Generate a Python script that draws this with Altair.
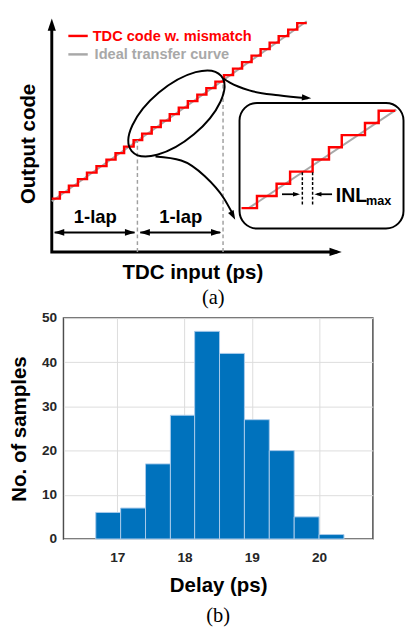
import altair as alt
import pandas as pd

# ---------------- (b) histogram of delay ----------------
bin_start = [16.68, 17.05, 17.42, 17.79, 18.15, 18.52, 18.89, 19.26, 19.63, 20.00]
bin_end = [17.05, 17.42, 17.79, 18.15, 18.52, 18.89, 19.26, 19.63, 20.00, 20.37]
counts = [6, 7, 17, 28, 47, 42, 27, 20, 5, 1]
delay_ticks = [17, 18, 19, 20]
count_ticks = [0, 10, 20, 30, 40, 50]

# ---------------- (a) TDC transfer-curve sketch ----------------
# x: TDC input in LSB (one lap = 9 LSB), y: output code
lap_edges = [0, 9, 18]
code_start = 8.2
riser_x = [0.85, 1.8, 2.75, 3.7, 4.7, 5.75, 6.7, 7.6, 8.6, 9.5, 10.5, 11.45,
           12.4, 13.35, 14.3, 15.3, 16.25, 17.2, 18.1, 19.05, 20.0, 21.0,
           21.95, 22.9, 23.85, 24.85, 25.8]
curve_end_x = 26.8
ideal_x = [0.0, 26.8]
ideal_y = [7.8, 35.5]
lap_line_top = [17.2, 26.2]

# zoomed inset (own zoomed-LSB / zoomed-code units)
inset_riser_x = [0.86, 1.95, 2.70, 3.95, 4.86, 5.57, 6.86, 7.62]
inset_end_x = 8.54
inset_ideal_x = [0.4, 8.6]
inset_ideal_y = [0.0, 8.1]
inl_edges = [3.38, 3.95]

# ---------------- scale set-up for the sketch ----------------
PX_LSB = 88 / 9.0
PX_CODE = 6.68
TOP_W, TOP_H = 351, 300
x_lo = 12 / PX_LSB
XS = alt.Scale(domain=[x_lo, x_lo + TOP_W / PX_LSB], nice=False, zero=False)
YS = alt.Scale(domain=[-60 / PX_CODE, 240 / PX_CODE], nice=False, zero=False)
Y_TOP = 240 / PX_CODE

# inset placement inside the sketch
IN_X0, IN_Y0 = 19.94, 6.74
IN_SX, IN_SY = 18.5 / PX_LSB, 12.5 / PX_CODE


def ix(v):
    return IN_X0 + IN_SX * v


def iy(v):
    return IN_Y0 + IN_SY * v


FONT = "Liberation Sans"


def enc(**extra):
    d = dict(x=alt.X("x:Q", scale=XS, axis=None), y=alt.Y("y:Q", scale=YS, axis=None))
    d.update(extra)
    return d


layers = []

# axes of the sketch (one polyline)
axes_df = pd.DataFrame({"x": [0, 0, 30.0], "y": [Y_TOP - 1.6, 0, 0], "o": [0, 1, 2]})
layers.append(alt.Chart(axes_df).mark_line(color="black", strokeWidth=3, strokeJoin="miter")
              .encode(**enc(order="o:Q")))

# ideal transfer curve
ideal_df = pd.DataFrame({"x": ideal_x, "y": ideal_y})
layers.append(alt.Chart(ideal_df).mark_line(color="#a8a8a8", strokeWidth=2).encode(**enc()))

# TDC code with mismatch (staircase)
sx = [0] + riser_x + [curve_end_x]
sy = [code_start + i for i in range(len(riser_x) + 1)] + [code_start + len(riser_x)]
stair_df = pd.DataFrame({"x": sx, "y": sy, "o": list(range(len(sx)))})
layers.append(alt.Chart(stair_df).mark_line(color="#ff0000", strokeWidth=2.5, interpolate="step-after")
              .encode(**enc(order="o:Q")))

# dashed lap boundaries
lapl_df = pd.DataFrame({"x": lap_edges[1:], "y": [0, 0], "y2": lap_line_top})
layers.append(alt.Chart(lapl_df).mark_rule(color="#a0a0a0", strokeWidth=1.5, strokeDash=[4, 3])
              .encode(**enc(y2="y2:Q")))

# 1-lap double arrows (shafts)
shaft_df = pd.DataFrame({"x": [0.3, 9.3], "x2": [8.7, 17.7], "y": [3.0, 3.0]})
layers.append(alt.Chart(shaft_df).mark_rule(color="black", strokeWidth=2).encode(**enc(x2="x2:Q")))

lap_txt = pd.DataFrame({"x": [4.57, 13.55], "y": [5.4, 5.4], "t": ["1-lap", "1-lap"]})
layers.append(alt.Chart(lap_txt).mark_text(font=FONT, fontSize=19, fontWeight="bold", color="black",
                                           baseline="middle").encode(**enc(text="t:N")))

# ellipse around the middle lap
ell = "M 1 0 C 1 0.258 0.552 0.467 0 0.467 C -0.552 0.467 -1 0.258 -1 0 C -1 -0.258 -0.552 -0.467 0 -0.467 C 0.552 -0.467 1 -0.258 1 0 Z"
ell_df = pd.DataFrame({"x": [13.1], "y": [21.3]})
layers.append(alt.Chart(ell_df).mark_point(shape=ell, size=14400, angle=320, filled=False, color="black",
                                           strokeWidth=2, opacity=1).encode(**enc()))

# curved zoom arrows
curve_df = pd.DataFrame({
    "x": [18.07, 18.72, 20.76, 23.83, 26.9, 10.9, 13.6, 16.06, 18.1, 19.0],
    "y": [26.65, 26.05, 24.85, 24.1, 23.65, 14.67, 14.07, 11.68, 8.23, 5.9],
    "id": ["a"] * 5 + ["b"] * 5,
    "o": [0, 1, 2, 3, 4, 0, 1, 2, 3, 4],
})
layers.append(alt.Chart(curve_df).mark_line(color="black", strokeWidth=2, interpolate="monotone")
              .encode(**enc(detail="id:N", order="o:Q")))

# inset box
box_df = pd.DataFrame({"x": [ix(-0.11)], "x2": [ix(9.0)], "y": [iy(-1.68)], "y2": [iy(8.64)]})
layers.append(alt.Chart(box_df).mark_rect(fill="transparent", stroke="black", strokeWidth=2, cornerRadius=18)
              .encode(**enc(x2="x2:Q", y2="y2:Q")))

# inset ideal and staircase
in_ideal_df = pd.DataFrame({"x": [ix(v) for v in inset_ideal_x], "y": [iy(v) for v in inset_ideal_y]})
layers.append(alt.Chart(in_ideal_df).mark_line(color="#a8a8a8", strokeWidth=2).encode(**enc()))

isx = [0] + inset_riser_x + [inset_end_x]
isy = list(range(len(inset_riser_x) + 1)) + [len(inset_riser_x)]
in_stair_df = pd.DataFrame({"x": [ix(v) for v in isx], "y": [iy(v) for v in isy], "o": list(range(len(isx)))})
layers.append(alt.Chart(in_stair_df).mark_line(color="#ff0000", strokeWidth=2.5, interpolate="step-after")
              .encode(**enc(order="o:Q")))

# INL markers
inl_df = pd.DataFrame({"x": [ix(v) for v in inl_edges], "y": [iy(0.3)] * 2, "y2": [iy(3.0)] * 2})
layers.append(alt.Chart(inl_df).mark_rule(color="black", strokeWidth=1.5, strokeDash=[3, 2])
              .encode(**enc(y2="y2:Q")))
inl_shaft = pd.DataFrame({"x": [ix(2.25), ix(4.2)], "x2": [ix(3.1), ix(5.03)], "y": [iy(1.14)] * 2})
layers.append(alt.Chart(inl_shaft).mark_rule(color="black", strokeWidth=1.8).encode(**enc(x2="x2:Q")))
inl_txt = pd.DataFrame({"x": [ix(5.24)], "y": [iy(0.96)], "t": ["INL"]})
layers.append(alt.Chart(inl_txt).mark_text(font=FONT, fontSize=20, fontWeight="bold", color="black",
                                           align="left", baseline="middle").encode(**enc(text="t:N")))
max_txt = pd.DataFrame({"x": [ix(6.92)], "y": [iy(0.6)], "t": ["max"]})
layers.append(alt.Chart(max_txt).mark_text(font=FONT, fontSize=13, fontWeight="bold", color="black",
                                           align="left", baseline="middle").encode(**enc(text="t:N")))

# legend
leg_df = pd.DataFrame({"x": [1.74, 1.74], "x2": [3.78, 3.78], "y": [33.23, 30.39], "c": ["r", "g"]})
layers.append(alt.Chart(leg_df).mark_rule(strokeWidth=2.5).encode(
    **enc(x2="x2:Q", color=alt.Color("c:N", scale=alt.Scale(domain=["r", "g"], range=["#ff0000", "#a8a8a8"]),
                                      legend=None))))
leg_t1 = pd.DataFrame({"x": [4.3], "y": [33.23], "t": ["TDC code w. mismatch"]})
layers.append(alt.Chart(leg_t1).mark_text(font=FONT, fontSize=15, fontWeight="bold", color="#ff0000",
                                          align="left", baseline="middle").encode(**enc(text="t:N")))
leg_t2 = pd.DataFrame({"x": [4.5], "y": [30.39], "t": ["Ideal transfer curve"]})
layers.append(alt.Chart(leg_t2).mark_text(font=FONT, fontSize=15, fontWeight="bold", color="#a8a8a8",
                                          align="left", baseline="middle").encode(**enc(text="t:N")))

# axis titles of the sketch
xt = pd.DataFrame({"x": [14.83], "y": [-3.29], "t": ["TDC input (ps)"]})
layers.append(alt.Chart(xt).mark_text(font=FONT, fontSize=21, fontWeight="bold", color="black",
                                      baseline="middle").encode(**enc(text="t:N")))
yt = pd.DataFrame({"x": [-2.35], "y": [16.62], "t": ["Output code"]})
layers.append(alt.Chart(yt).mark_text(font=FONT, fontSize=21, fontWeight="bold", color="black",
                                      baseline="middle", angle=270).encode(**enc(text="t:N")))
at = pd.DataFrame({"x": [16.98], "y": [-7.04], "t": ["(a)"]})
layers.append(alt.Chart(at).mark_text(font="Liberation Serif", fontSize=21, color="black",
                                      baseline="middle").encode(**enc(text="t:N")))

# arrowheads (tip at the data point)
head = "M 0 0 L 0.4 1.2 L -0.4 1.2 Z"
heads_df = pd.DataFrame({
    "x": [0, 30.48, 0.25, 8.75, 9.25, 17.8, 27.27, 19.28, ix(3.25), ix(4.05)],
    "y": [Y_TOP, 0, 3.0, 3.0, 3.0, 3.0, 23.65, 4.94, iy(1.14), iy(1.14)],
    "a": [0, 90, 270, 90, 270, 90, 95, 152, 90, 270],
    "s": [441, 441, 300, 300, 300, 300, 256, 256, 144, 144],
})
layers.append(alt.Chart(heads_df).mark_point(shape=head, filled=True, color="black", opacity=1, strokeWidth=0)
              .encode(**enc(angle=alt.Angle("a:Q", scale=None), size=alt.Size("s:Q", scale=None))))

top = alt.layer(*layers).properties(width=TOP_W, height=TOP_H, view=alt.ViewBackground(stroke=None))

# ---------------- histogram chart ----------------
hist_df = pd.DataFrame({"start": bin_start, "end": bin_end, "count": counts})
HX = alt.Scale(domain=[16.2, 20.8], nice=False, zero=False)
HY = alt.Scale(domain=[0, 50], nice=False)
H_W, H_H = 318, 227

bottom = alt.Chart(hist_df).mark_rect(color="#0072BD", stroke="#a9cbea", strokeWidth=1).encode(
    x=alt.X("start:Q", scale=HX, axis=alt.Axis(
        values=delay_ticks, format="d", title="Delay (ps)", grid=True, gridColor="#dcdcdc",
        ticks=False, domain=False, labelFont=FONT, labelFontSize=14, labelFontWeight="bold",
        labelColor="#262626", labelPadding=12, titleFont=FONT, titleFontSize=21, titleFontWeight="bold",
        titleColor="black", titlePadding=11)),
    x2="end:Q",
    y=alt.Y("count:Q", scale=HY, axis=alt.Axis(
        values=count_ticks, format="d", title="No. of samples", grid=True, gridColor="#dcdcdc",
        ticks=False, domain=False, labelFont=FONT, labelFontSize=14, labelFontWeight="bold",
        labelColor="#262626", labelPadding=7, titleFont=FONT, titleFontSize=21, titleFontWeight="bold",
        titleColor="black", titlePadding=12)),
    y2=alt.datum(0),
).properties(
    width=H_W, height=H_H,
    view=alt.ViewBackground(stroke="#4d4d4d", strokeWidth=1.5),
    title=alt.TitleParams("(b)", orient="bottom", font="Liberation Serif", fontSize=21, fontWeight="normal",
                          color="black", frame="group", anchor="middle", offset=10),
)

chart = alt.vconcat(top, bottom, spacing=0).properties(padding=0).configure(
    font=FONT, background="white")

chart.save("out.html", embed_options={"renderer": "svg", "actions": False})
